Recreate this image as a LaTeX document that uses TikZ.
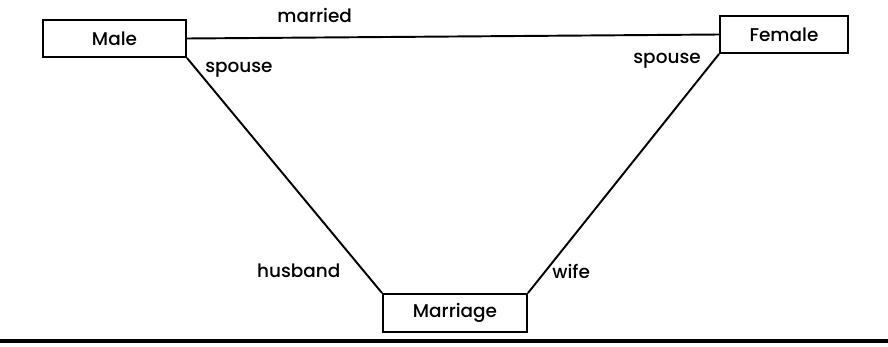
\documentclass[tikz,border=0pt]{standalone}
\usepackage{fontspec}
\setmainfont{Poppins}[UprightFont={* Medium}]
\usetikzlibrary{positioning}
\tikzset{
  entity/.style={rectangle, draw=black, line width=1.1pt, inner sep=0pt, font=\fontsize{10.5}{12}\selectfont},
  rel/.style={line width=1.1pt, draw=black},
  role/.style={font=\fontsize{10.5}{12}\selectfont, inner sep=2pt},
  rule/.style={line width=1.8pt, draw=black}
}
\begin{document}
\begin{tikzpicture}
  \useasboundingbox (0,0) rectangle (17.76,6.92);

  \node[entity, minimum width=2.86cm, minimum height=0.74cm] (male) at (2.29,6.15) {Male};
  \node[entity, minimum width=2.56cm, minimum height=0.74cm] (female) at (15.68,6.23) {Female};
  \node[entity, minimum width=2.88cm, minimum height=0.76cm] (marriage) at (9.10,0.66) {Marriage};

  \draw[rel] (male.east) -- node[role, pos=0.24, above=0.21cm] {married} (female.west);
  \draw[rel] (male.south east) -- node[role, pos=0.04, right=0.12cm, yshift=-0.05cm] {spouse}
    node[role, pos=0.907, left=0.38cm] {husband} (marriage.north west);
  \draw[rel] (female.south west) -- node[role, pos=0.02, left=0.2cm, yshift=-0.05cm] {spouse}
    node[role, pos=0.909, right=0.05cm] {wife} (marriage.north east);

  \coordinate (ruleL) at (0,0.10);
  \coordinate (ruleR) at (17.76,0.10);
  \draw[rule] (ruleL) -- (ruleR);
\end{tikzpicture}
\end{document}
